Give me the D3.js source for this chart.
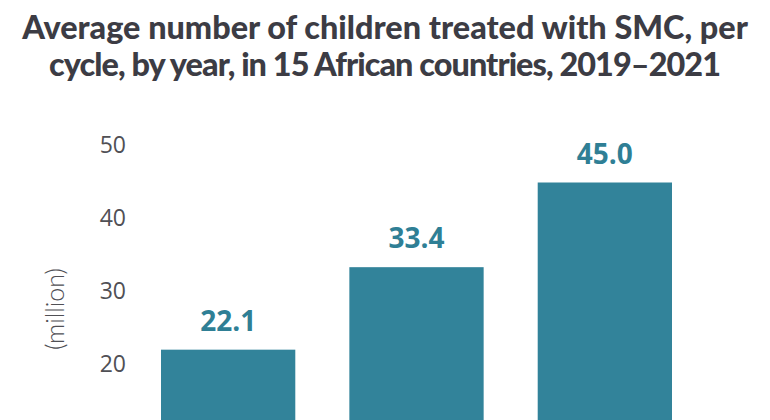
<!DOCTYPE html>
<html><head><meta charset="utf-8">
<script src="https://cdn.jsdelivr.net/npm/d3@7"></script>
<style>body{margin:0;background:#fff;overflow:hidden}svg{display:block}</style>
</head><body>
<script>
const titleLines = ["Average number of children treated with SMC, per", "cycle, by year, in 15 African countries, 2019\u20132021"];
const years = ["2019", "2020", "2021"];
const values = [22.1, 33.4, 45.0];
const yTicks = [20, 30, 40, 50];
const yLabel = "(million)";

const W = 770, H = 420;
const svg = d3.select("body").append("svg").attr("width", W).attr("height", H);

const x = d3.scaleBand().domain(years).range([161, 672]).paddingInner(0.287).paddingOuter(0);
const y = d3.scaleLinear().domain([0, 50]).range([511, 146]);

const barColor = "#32839a";

svg.selectAll("rect.bar").data(values).join("rect")
  .attr("class", "bar")
  .attr("x", (d, i) => x(years[i]))
  .attr("width", x.bandwidth())
  .attr("y", d => y(d))
  .attr("height", d => y(0) - y(d))
  .attr("fill", barColor);

svg.selectAll("text.val").data(values).join("text")
  .attr("class", "val")
  .attr("x", (d, i) => x(years[i]) + x.bandwidth() / 2)
  .attr("y", d => y(d) - 19)
  .attr("text-anchor", "middle")
  .attr("font-family", "Open Sans")
  .attr("font-weight", 700)
  .attr("font-size", 28)
  .attr("fill", "#2f7f95")
  .text(d => d.toFixed(1));

const axis = d3.axisLeft(y).tickValues(yTicks).tickSize(0).tickPadding(0).tickFormat(d3.format("d"));
const ag = svg.append("g").attr("transform", "translate(126,0)").call(axis);
ag.select(".domain").remove();
ag.selectAll("text")
  .attr("font-family", "Open Sans")
  .attr("font-size", 23)
  .attr("fill", "#505055")
  .attr("dy", "0.3em");

svg.append("text")
  .attr("transform", "translate(64,309) rotate(-90)")
  .attr("text-anchor", "middle")
  .attr("font-family", "Lato")
  .attr("font-weight", 300)
  .attr("font-size", 25)
  .attr("fill", "#505055")
  .text(yLabel);

const targetW = [726, 672];
let fs = 29;
titleLines.forEach((t, i) => {
  const tx = svg.append("text")
    .attr("x", W / 2)
    .attr("y", 39 + i * 37)
    .attr("text-anchor", "middle")
    .attr("font-family", "Lato")
    .attr("font-weight", 900)
    .attr("font-size", fs)
    .attr("fill", "#3c3c44")
    .text(t);
  if (i === 0) {
    fs = fs * targetW[0] / tx.node().getComputedTextLength();
    tx.attr("font-size", fs);
  } else {
    tx.attr("textLength", targetW[1]).attr("lengthAdjust", "spacing");
  }
});
</script>
</body></html>
